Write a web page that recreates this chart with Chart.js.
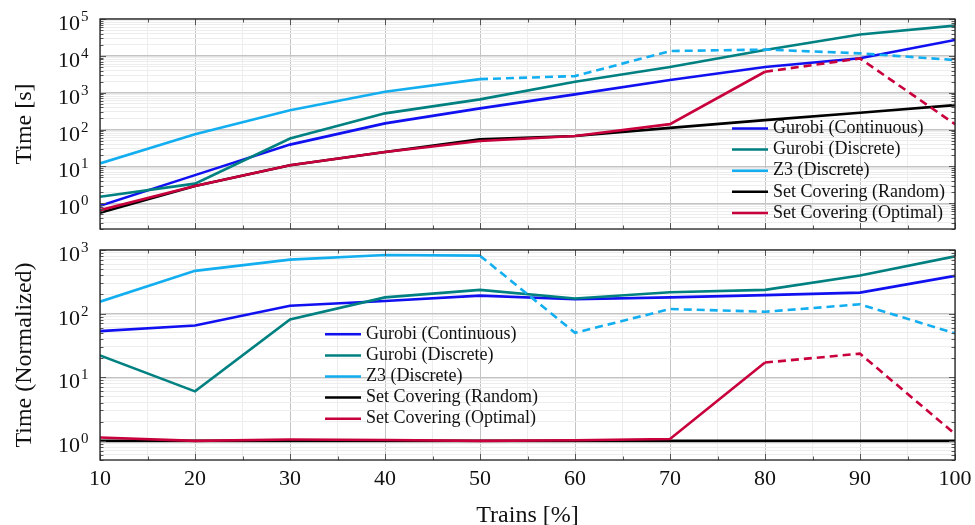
<!DOCTYPE html>
<html>
<head>
<meta charset="utf-8">
<script src="https://cdn.jsdelivr.net/npm/chart.js@4/dist/chart.umd.min.js"></script>
<style>
  body { margin: 0; background: #fff; }
  #wrap { position: relative; width: 975px; height: 525px; }
  canvas { position: absolute; left: 0; }
</style>
</head>
<body>
<div id="wrap">
  <canvas id="timeChart" width="975" height="240" style="top:0"></canvas>
  <canvas id="normChart" width="975" height="285" style="top:240px"></canvas>
</div>
<script>
// x values (share of trains, %)
const trains = [10, 20, 30, 40, 50, 60, 70, 80, 90, 100];
const methods = ["Gurobi (Continuous)", "Gurobi (Discrete)", "Z3 (Discrete)",
                 "Set Covering (Random)", "Set Covering (Optimal)"];

// absolute time [s]
const timeGurobiCont = [0.85, 5.8, 39, 147, 375, 900, 2200, 5000, 8600, 27000];
const timeGurobiDisc = [1.5, 3.4, 57, 275, 660, 1980, 5000, 14400, 38000, 66000];
const timeZ3         = [12, 75, 336, 1060, 2340, 2820, 13500, 14800, 11700, 7700];
const timeSCRandom   = [0.55, 2.95, 10.8, 24.7, 54, 67, 111, 180, 285, 460];
const timeSCOptimal  = [0.65, 2.95, 10.8, 24.7, 49, 67, 140, 3700, 8500, 140];

// normalized time
const normGurobiCont = [53, 65, 133, 158, 192, 168, 180, 195, 214, 392];
const normGurobiDisc = [22, 6.0, 81, 180, 236, 173, 217, 236, 398, 795];
const normZ3         = [154, 470, 705, 835, 815, 50, 118, 107, 140, 49];
const normSCRandom   = [1, 1, 1, 1, 1, 1, 1, 1, 1, 1];
const normSCOptimal  = [1.13, 1.0, 1.05, 1.03, 1.0, 1.02, 1.07, 17, 23.5, 1.28];

const colors = ["#1010f0", "#008080", "#12aeef", "#000000", "#c8003c"];
// index of the first point from which a series is drawn dashed
const dashFrom = [99, 99, 4, 99, 7];

const serif = '"Liberation Serif", "DejaVu Serif", serif';
const majorGrid = "#c4c4c4";
const minorGrid = "#ededed";

function logTicks(min, max) {
  const out = [];
  for (let e = Math.floor(Math.log10(min)); e <= Math.ceil(Math.log10(max)); e++) {
    for (let m = 1; m <= 9; m++) {
      const v = m * Math.pow(10, e);
      if (v >= min * 0.999 && v <= max * 1.001) out.push(v);
    }
  }
  return out;
}
const isPow10 = v => Math.abs(Math.log10(v) - Math.round(Math.log10(v))) < 1e-6;

const framePlugin = {
  id: "frame",
  afterDraw(chart, args, opts) {
    const ctx = chart.ctx;
    const a = chart.chartArea;
    const xs = chart.scales.x, ys = chart.scales.y;
    ctx.save();
    // tick marks, inside on all four sides
    ctx.strokeStyle = "#555";
    ctx.lineWidth = 1;
    ctx.beginPath();
    xs.ticks.forEach(t => {
      const px = Math.round(xs.getPixelForValue(t.value)) + 0.5;
      const len = t.value % 10 === 0 ? 6 : 3.5;
      ctx.moveTo(px, a.bottom); ctx.lineTo(px, a.bottom - len);
      ctx.moveTo(px, a.top); ctx.lineTo(px, a.top + len);
    });
    ys.ticks.forEach(t => {
      const py = Math.round(ys.getPixelForValue(t.value)) + 0.5;
      const len = isPow10(t.value) ? 6 : 3.5;
      ctx.moveTo(a.left, py); ctx.lineTo(a.left + len, py);
      ctx.moveTo(a.right, py); ctx.lineTo(a.right - len, py);
    });
    ctx.stroke();
    // frame
    ctx.strokeStyle = "#222";
    ctx.lineWidth = 1.3;
    ctx.strokeRect(a.left, a.top, a.right - a.left, a.bottom - a.top);

    ctx.fillStyle = "#111";
    // y labels 10^n
    ys.ticks.filter(t => isPow10(t.value)).forEach(t => {
      const py = ys.getPixelForValue(t.value);
      const e = Math.round(Math.log10(t.value));
      ctx.font = "22px " + serif;
      ctx.textAlign = "right";
      ctx.textBaseline = "alphabetic";
      ctx.fillText("10", 80, py + 11);
      ctx.font = "15px " + serif;
      ctx.textAlign = "left";
      ctx.fillText(String(e), 81, py + 2);
    });
    // x labels
    if (opts.xLabels) {
      ctx.font = "22px " + serif;
      ctx.textAlign = "center";
      xs.ticks.filter(t => t.value % 10 === 0).forEach(t => {
        ctx.fillText(String(t.value), xs.getPixelForValue(t.value), opts.xLabelY);
      });
      ctx.font = "24px " + serif;
      ctx.fillText(opts.xTitle, (a.left + a.right) / 2, opts.xTitleY);
    }
    // y title
    ctx.save();
    ctx.translate(25, (a.top + a.bottom) / 2);
    ctx.rotate(-Math.PI / 2);
    ctx.font = "24px " + serif;
    ctx.textAlign = "center";
    ctx.textBaseline = "middle";
    ctx.fillText(opts.yTitle, 0, 0);
    ctx.restore();
    // legend
    ctx.font = "18px " + serif;
    ctx.textAlign = "left";
    ctx.textBaseline = "middle";
    chart.data.datasets.forEach((ds, i) => {
      const y = opts.legendY + i * 21.1;
      ctx.strokeStyle = ds.borderColor;
      ctx.lineWidth = 2.5;
      ctx.beginPath();
      ctx.moveTo(opts.legendX, y);
      ctx.lineTo(opts.legendX + 36, y);
      ctx.stroke();
      ctx.fillStyle = "#111";
      ctx.fillText(ds.label, opts.legendX + 41, y);
    });
    ctx.restore();
  }
};

function makeChart(id, series, yMin, yMax, frame, padding, xHeight) {
  const yTicks = logTicks(yMin, yMax);
  const xTicks = [];
  for (let v = 10; v <= 100; v += 5) xTicks.push(v);
  return new Chart(document.getElementById(id), {
    type: "line",
    data: {
      datasets: series.map((vals, i) => ({
        label: methods[i],
        data: trains.map((x, j) => ({ x: x, y: vals[j] })),
        borderColor: colors[i],
        borderWidth: 2.6,
        pointRadius: 0,
        tension: 0,
        fill: false,
        order: series.length - i,
        segment: {
          borderDash: c => (c.p0DataIndex >= dashFrom[i] ? [8, 5] : undefined)
        }
      }))
    },
    options: {
      responsive: false,
      animation: false,
      layout: { padding: padding },
      plugins: { legend: { display: false }, tooltip: { enabled: false }, frame: frame },
      scales: {
        x: {
          type: "linear", min: 10, max: 100,
          afterBuildTicks: ax => { ax.ticks = xTicks.map(v => ({ value: v })); },
          grid: { color: c => (c.tick && c.tick.value % 10 === 0 ? majorGrid : minorGrid), lineWidth: 1, drawTicks: false },
          border: { display: false },
          ticks: { display: false },
          afterFit: ax => { ax.height = xHeight; }
        },
        y: {
          type: "logarithmic", min: yMin, max: yMax,
          afterBuildTicks: ax => { ax.ticks = yTicks.map(v => ({ value: v })); },
          grid: { color: c => (c.tick && isPow10(c.tick.value) ? majorGrid : minorGrid), lineWidth: c => (c.tick && isPow10(c.tick.value) ? 1.4 : 1), drawTicks: false },
          border: { display: false },
          ticks: { display: false },
          afterFit: ax => { ax.width = 100; }
        }
      }
    },
    plugins: [framePlugin]
  });
}

makeChart("timeChart",
  [timeGurobiCont, timeGurobiDisc, timeZ3, timeSCRandom, timeSCOptimal],
  0.2, 1e5,
  { yTitle: "Time [s]", legendX: 732, legendY: 128.5, xLabels: false },
  { top: 19, right: 20, bottom: 11, left: 0 }, 0);

makeChart("normChart",
  [normGurobiCont, normGurobiDisc, normZ3, normSCRandom, normSCOptimal],
  0.5, 1e3,
  { yTitle: "Time (Normalized)", legendX: 325, legendY: 94.3, xLabels: true,
    xLabelY: 245, xTitle: "Trains [%]", xTitleY: 282 },
  { top: 10, right: 20, bottom: 0, left: 0 }, 65);
</script>
</body>
</html>
